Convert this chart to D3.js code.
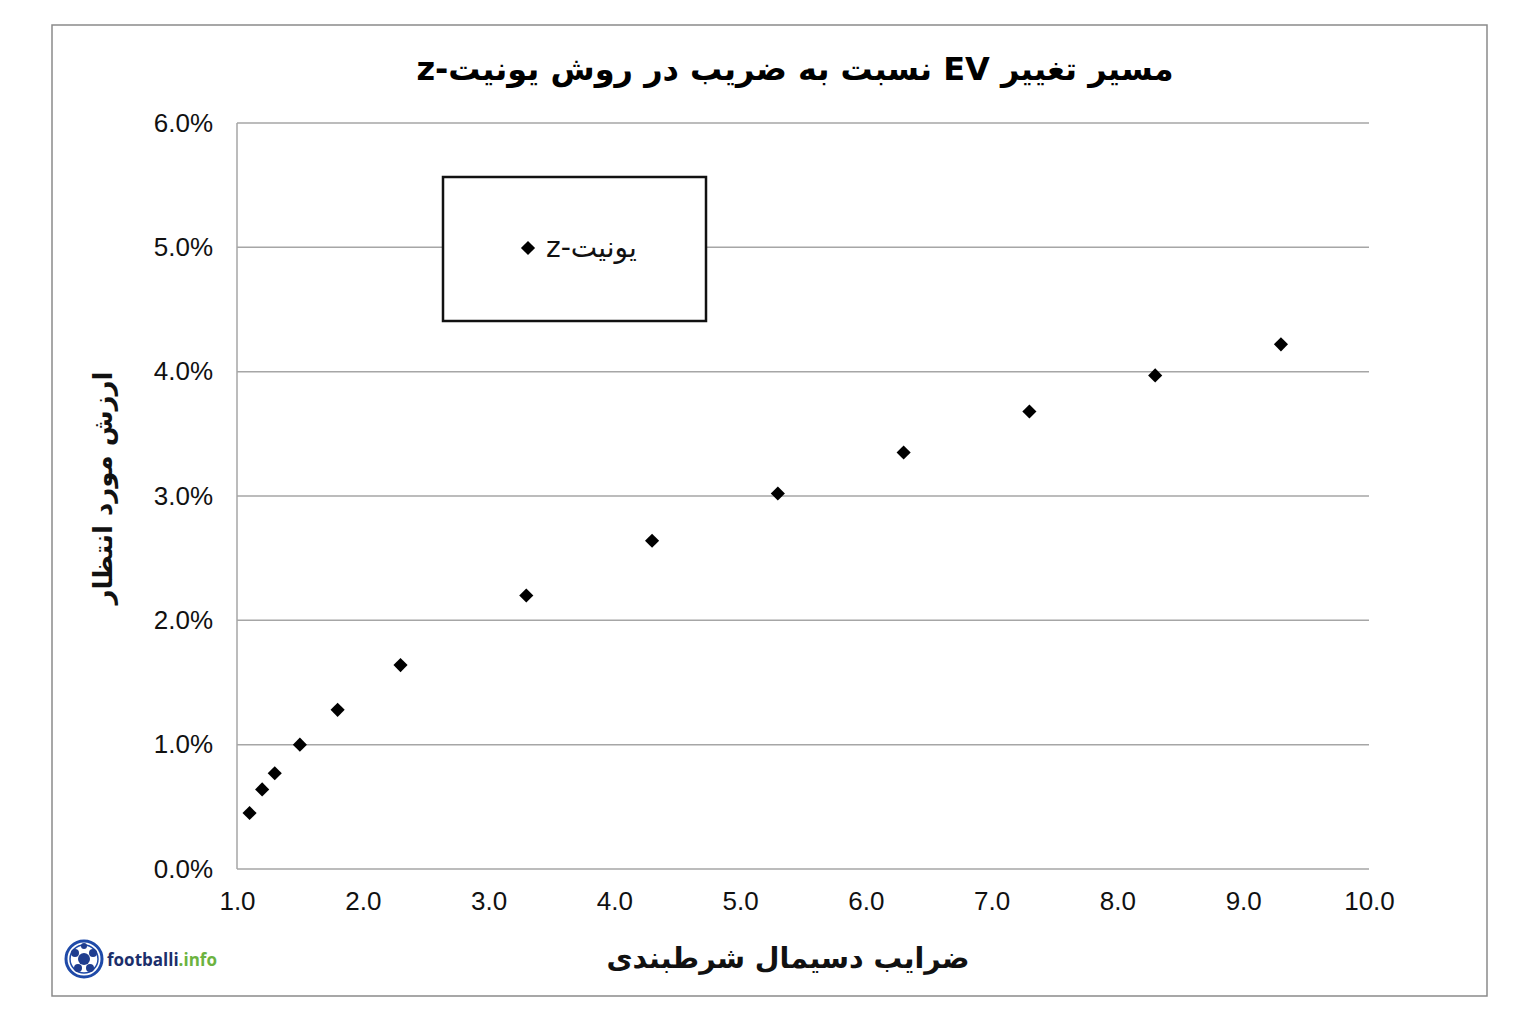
<!DOCTYPE html>
<html><head><meta charset="utf-8">
<script src="https://cdn.jsdelivr.net/npm/d3@7"></script>
<style>body{margin:0;background:#fff;}svg{display:block;}</style>
</head><body>
<script>
const odds = [1.1, 1.2, 1.3, 1.5, 1.8, 2.3, 3.3, 4.3, 5.3, 6.3, 7.3, 8.3, 9.3];
const evValues = [0.0045, 0.0064, 0.0077, 0.0100, 0.0128, 0.0164, 0.0220, 0.0264, 0.0302, 0.0335, 0.0368, 0.0397, 0.0422];
const xTicks = [1,2,3,4,5,6,7,8,9,10];
const yTicks = [0,0.01,0.02,0.03,0.04,0.05,0.06];
const titleText = "مسیر تغییر EV نسبت به ضریب در روش یونیت-z";
const xLabel = "ضرایب دسیمال شرطبندی";
const yLabel = "ارزش مورد انتظار";
const legendLabel = "یونیت-z";

const W = 1539, H = 1022;
const svg = d3.select("body").append("svg").attr("width", W).attr("height", H);
svg.append("rect").attr("width", W).attr("height", H).attr("fill", "#fff");
svg.append("rect").attr("x", 52).attr("y", 25).attr("width", 1435).attr("height", 971)
  .attr("fill", "#fff").attr("stroke", "#8a8a8a").attr("stroke-width", 1.5);

const x = d3.scaleLinear().domain([1, 10]).range([237, 1369]);
const y = d3.scaleLinear().domain([0, 0.06]).range([869, 123]);

// grid
svg.append("g").selectAll("line").data(yTicks).join("line")
  .attr("x1", 237).attr("x2", 1369).attr("y1", d => y(d)).attr("y2", d => y(d))
  .attr("stroke", "#a6a6a6").attr("stroke-width", 1.5);
svg.append("line").attr("x1", 237).attr("x2", 237).attr("y1", 123).attr("y2", 869)
  .attr("stroke", "#a6a6a6").attr("stroke-width", 1.5);

// axes labels
const yAxis = d3.axisLeft(y).tickValues(yTicks).tickFormat(d3.format(".1%")).tickSize(0).tickPadding(24);
const gy = svg.append("g").attr("transform", "translate(237,0)").call(yAxis);
gy.select(".domain").remove();
gy.selectAll("text").attr("font-family", "Liberation Sans, Arial, sans-serif").attr("font-size", 26).attr("fill", "#111");

const xAxis = d3.axisBottom(x).tickValues(xTicks).tickFormat(d3.format(".1f")).tickSize(0).tickPadding(23);
const gx = svg.append("g").attr("transform", "translate(0,869)").call(xAxis);
gx.select(".domain").remove();
gx.selectAll("text").attr("font-family", "Liberation Sans, Arial, sans-serif").attr("font-size", 26).attr("fill", "#111");

// diamond marker: square rotated 45°
const dsym = d3.symbol().type(d3.symbolSquare).size(100);

// legend
svg.append("rect").attr("x", 443).attr("y", 177).attr("width", 263).attr("height", 144)
  .attr("fill", "#fff").attr("stroke", "#111").attr("stroke-width", 2.5);
svg.append("path").attr("d", dsym()).attr("transform", "translate(528,248) rotate(45)").attr("fill", "#000");
svg.append("text").attr("x", 546).attr("y", 257).attr("direction", "rtl")
  .attr("font-family", "DejaVu Sans, sans-serif").attr("font-size", 28).attr("fill", "#111")
  .text(legendLabel).attr("text-anchor", "end");

// points
svg.append("g").selectAll("path").data(odds).join("path")
  .attr("d", dsym()).attr("fill", "#000")
  .attr("transform", (d, i) => `translate(${x(d)},${y(evValues[i])}) rotate(45)`);

// title
svg.append("text").attr("x", 795).attr("y", 80).attr("text-anchor", "middle")
  .attr("direction", "rtl").attr("font-family", "DejaVu Sans, sans-serif").attr("font-weight", "bold")
  .attr("font-size", 32).attr("fill", "#000").text(titleText);

// x label
svg.append("text").attr("x", 788).attr("y", 968).attr("text-anchor", "middle")
  .attr("direction", "rtl").attr("font-family", "DejaVu Sans, sans-serif").attr("font-weight", "bold")
  .attr("font-size", 28.5).attr("fill", "#111").text(xLabel);

// y label
svg.append("text").attr("transform", "translate(112,488) rotate(-90)").attr("text-anchor", "middle")
  .attr("direction", "rtl").attr("font-family", "DejaVu Sans, sans-serif").attr("font-weight", "bold")
  .attr("font-size", 26).attr("fill", "#111").text(yLabel);

// logo
const lg = svg.append("g").attr("transform", "translate(84,959)");
lg.append("circle").attr("r", 18).attr("fill", "#fff").attr("stroke", "#1f4aa8").attr("stroke-width", 3);
lg.append("circle").attr("r", 14).attr("fill", "#fff").attr("stroke", "#1f4aa8").attr("stroke-width", 1.5);
[[0,0,6],[-9,-6,4],[9,-6,4],[-6,9,4],[6,9,4],[0,-13,3]].forEach(p => {
  lg.append("circle").attr("cx", p[0]).attr("cy", p[1]).attr("r", p[2]).attr("fill", "#1f3d8f");
});
const lt = svg.append("text").attr("x", 107).attr("y", 966).attr("font-family", "Open Sans, sans-serif")
  .attr("font-weight", "bold").attr("font-size", 17);
lt.append("tspan").attr("fill", "#1c2f6b").text("footballi");
lt.append("tspan").attr("fill", "#6cb33f").text(".info");
</script>
</body></html>
